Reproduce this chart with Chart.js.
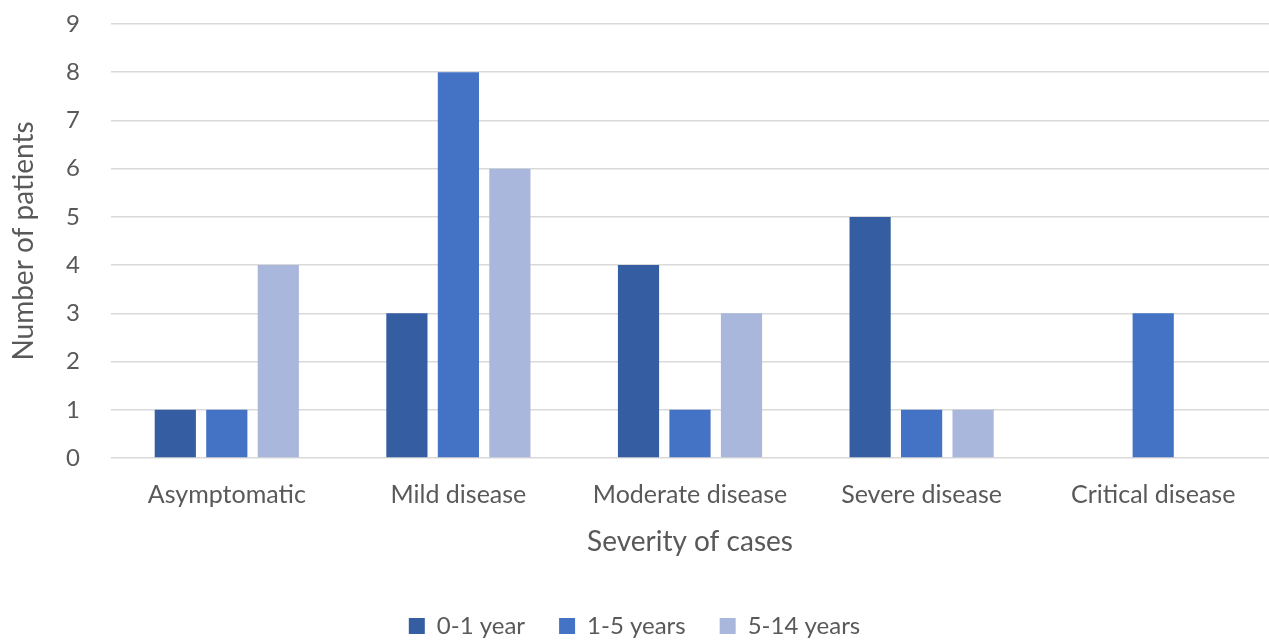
<!DOCTYPE html>
<html>
<head>
<meta charset="utf-8">
<script src="https://cdn.jsdelivr.net/npm/chart.js@4"></script>
<style>
  html, body { margin: 0; padding: 0; background: #fff; }
  #wrap { width: 1269px; height: 640px; }
</style>
</head>
<body>
<div id="wrap"><canvas id="c" width="1269" height="640"></canvas></div>
<script>
// chart values
var categories = ["Asymptomatic", "Mild disease", "Moderate disease", "Severe disease", "Critical disease"];
var seriesNames = ["0-1 year", "1-5 years", "5-14 years"];
var age0to1 = [1, 3, 4, 5, 0];
var age1to5 = [1, 8, 1, 1, 3];
var age5to14 = [4, 6, 3, 1, 0];
var yTicks = [0, 1, 2, 3, 4, 5, 6, 7, 8, 9];

var colors = ["#355EA2", "#4472C4", "#A9B7DC"];
var fontFamily = "Lato, 'Open Sans', sans-serif";
var textColor = "#595959";

var values = [age0to1, age1to5, age5to14];
var datasets = seriesNames.map(function(name, i) {
  return {
    label: name,
    data: values[i],
    backgroundColor: colors[i],
    borderWidth: 0,
    barPercentage: 0.8,
    categoryPercentage: 0.667
  };
});

Chart.defaults.font.family = fontFamily;
Chart.defaults.color = textColor;

// keep the legend strip short while the item spacing stays wide
var legendHeight = {
  id: "legendHeight",
  afterInit: function(chart) {
    var legend = chart.legend;
    if (!legend) return;
    var fit = legend.fit;
    legend.fit = function() {
      fit.call(this);
      this.height = 60;
    };
  }
};

new Chart(document.getElementById("c"), {
  type: "bar",
  data: { labels: categories, datasets: datasets },
  plugins: [legendHeight],
  options: {
    responsive: false,
    animation: false,
    layout: { padding: { top: 24, right: 0, left: 0, bottom: 0 } },
    plugins: {
      tooltip: { enabled: false },
      legend: {
        position: "bottom",
        labels: {
          font: { size: 24 },
          color: textColor,
          boxWidth: 16,
          boxHeight: 16,
          padding: 34
        }
      }
    },
    scales: {
      x: {
        grid: { display: false, drawTicks: false },
        border: { display: false },
        ticks: { font: { size: 25 }, color: textColor, padding: 22 },
        title: { display: true, text: "Severity of cases", font: { size: 28 }, color: textColor, padding: { top: 8, bottom: 21 } },
        afterFit: function(scale) {
          scale.height = 122;
          scale.paddingLeft = 0;
          scale.paddingRight = 0;
        }
      },
      y: {
        min: 0,
        max: 9,
        afterBuildTicks: function(scale) {
          scale.ticks = yTicks.map(function(v) { return { value: v }; });
        },
        grid: { color: "#D9D9D9", lineWidth: 1.5, drawTicks: false },
        border: { display: false },
        ticks: { font: { size: 24 }, color: textColor, padding: 31 },
        title: { display: true, text: "Number of patients", font: { size: 28 }, color: textColor, padding: { top: 7, bottom: 10 } },
        afterFit: function(scale) {
          scale.width = 111;
          scale.paddingTop = 0;
          scale.paddingBottom = 0;
        }
      }
    }
  }
});
</script>
</body>
</html>
